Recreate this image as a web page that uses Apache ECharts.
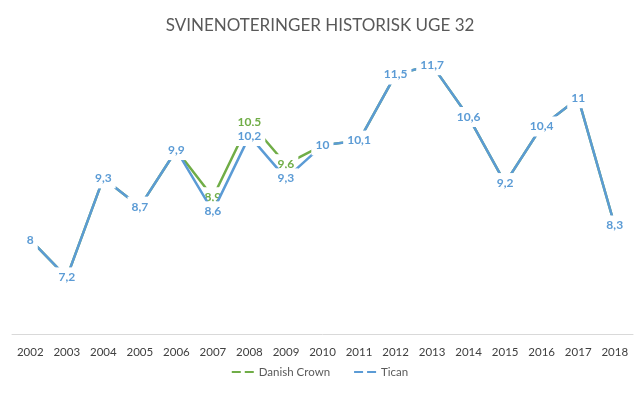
<!DOCTYPE html>
<html>
<head>
<meta charset="utf-8">
<script src="https://cdn.jsdelivr.net/npm/echarts@6/dist/echarts.min.js"></script>
<style>
  html, body { margin: 0; padding: 0; background: #fff; }
  #chart { width: 640px; height: 397px; }
</style>
</head>
<body>
<div id="chart"></div>
<script>
var years = ['2002', '2003', '2004', '2005', '2006', '2007', '2008', '2009', '2010',
  '2011', '2012', '2013', '2014', '2015', '2016', '2017', '2018'];
var danishCrown = [8, 7.2, 9.3, 8.7, 9.9, 8.9, 10.5, 9.6, 10, 10.1, 11.5, 11.7, 10.6, 9.2, 10.4, 11, 8.3];
var tican = [8, 7.2, 9.3, 8.7, 9.9, 8.6, 10.2, 9.3, 10, 10.1, 11.5, 11.7, 10.6, 9.2, 10.4, 11, 8.3];

var green = '#70AD47';
var blue = '#5B9BD5';
var fontName = 'Lato, "Open Sans", sans-serif';

// Excel-ish label: centred on the point, white box cuts the line
function pointLabel(color) {
  return {
    show: true,
    position: 'inside',
    color: color,
    fontFamily: fontName,
    fontWeight: 'bold',
    fontSize: 12,
    backgroundColor: '#fff',
    padding: [4, 4],
    formatter: function (p) { return String(p.value).replace('.', ','); }
  };
}

var legendIcon = 'path://M0,0h9v2h-9z M13,0h9v2h-9z';

var myChart = echarts.init(document.getElementById('chart'));
var option = {
  animation: false,
  title: {
    text: 'SVINENOTERINGER HISTORISK UGE 32',
    left: 'center',
    top: 12,
    textStyle: { fontFamily: fontName, fontWeight: 'normal', fontSize: 17, color: '#595959' }
  },
  legend: {
    bottom: 14,
    left: 'center',
    itemWidth: 22,
    itemHeight: 3,
    itemGap: 24,
    textStyle: { fontFamily: fontName, fontSize: 11.5, color: '#595959' },
    data: [
      { name: 'Danish Crown', icon: legendIcon, itemStyle: { color: green, opacity: 1 } },
      { name: 'Tican', icon: legendIcon, itemStyle: { color: blue, opacity: 1 } }
    ]
  },
  grid: { left: 12, right: 7, top: 51, bottom: 63, containLabel: false },
  xAxis: {
    type: 'category',
    data: years,
    boundaryGap: true,
    axisLine: { lineStyle: { color: '#D9D9D9', width: 1 } },
    axisTick: { show: false },
    axisLabel: { fontFamily: fontName, fontSize: 11.5, color: '#404040', margin: 12, interval: 0 }
  },
  yAxis: {
    type: 'value',
    min: 6,
    max: 12,
    show: false,
    splitLine: { show: false }
  },
  series: [
    {
      name: 'Danish Crown',
      type: 'line',
      data: danishCrown,
      symbol: 'circle',
      symbolSize: 0.1,
      itemStyle: { color: green },
      lineStyle: { color: green, width: 2.5 },
      label: pointLabel(green),
      z: 2
    },
    {
      name: 'Tican',
      type: 'line',
      data: tican,
      symbol: 'circle',
      symbolSize: 0.1,
      itemStyle: { color: blue },
      lineStyle: { color: blue, width: 2.5 },
      label: pointLabel(blue),
      z: 3
    }
  ]
};
myChart.setOption(option);
</script>
</body>
</html>
